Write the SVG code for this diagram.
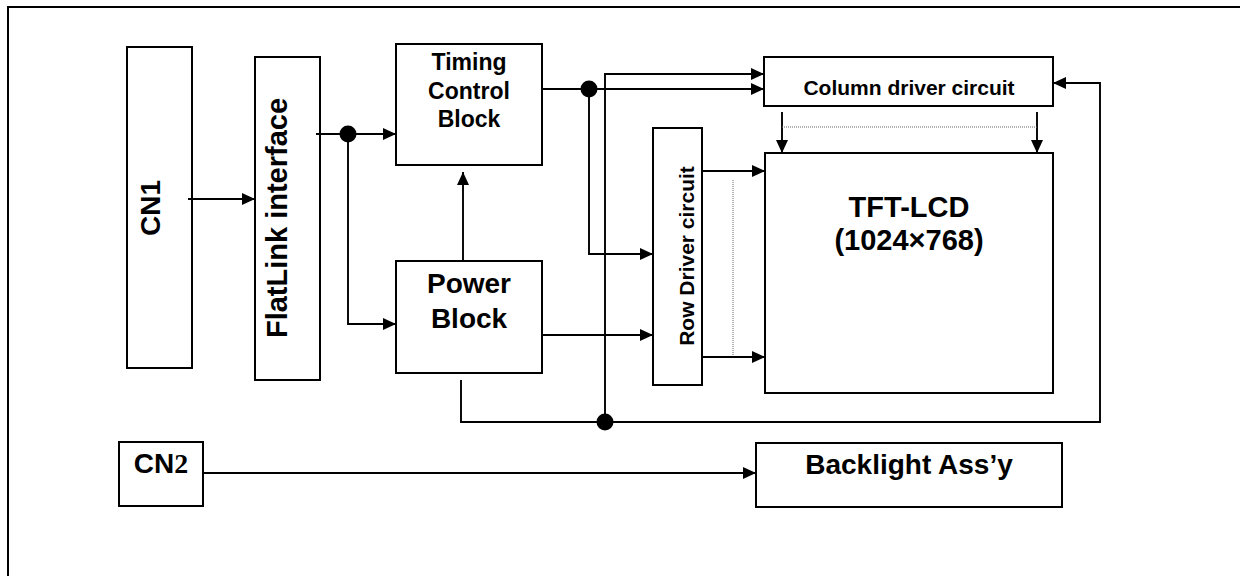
<svg xmlns="http://www.w3.org/2000/svg" width="1240" height="576" viewBox="0 0 1240 576">
<style>
.box{fill:#fff;stroke:#000;stroke-width:2}
.ln{fill:none;stroke:#000;stroke-width:1.9}
.dot{fill:#000}
.dotted{fill:none;stroke:#666;stroke-width:1;stroke-dasharray:1 1}
text{font-family:"Liberation Sans",Arial,sans-serif;font-weight:bold;fill:#000}
</style>
<defs>
<marker id="ah" markerUnits="userSpaceOnUse" markerWidth="13" markerHeight="12" refX="13" refY="6" orient="auto">
<path d="M0,0 L13,6 L0,12 z" fill="#000"/>
</marker>
</defs>
<rect x="0" y="0" width="1240" height="576" fill="#fff"/>
<path d="M8,600 V7 H1260" fill="none" stroke="#000" stroke-width="2"/>

<g id="cn1">
<rect class="box" x="127" y="47" width="65" height="321"/>
<text transform="translate(160,208) rotate(-90)" text-anchor="middle" font-size="28">CN1</text>
</g>
<g id="flatlink">
<rect class="box" x="255" y="57" width="65" height="323"/>
<text transform="translate(287,218) rotate(-90)" text-anchor="middle" font-size="29">FlatLink interface</text>
</g>
<g id="timing">
<rect class="box" x="396" y="44" width="146" height="121"/>
<text x="469" y="70" text-anchor="middle" font-size="23">Timing</text>
<text x="469" y="99" text-anchor="middle" font-size="23">Control</text>
<text x="469" y="127" text-anchor="middle" font-size="23">Block</text>
</g>
<g id="power">
<rect class="box" x="396" y="261" width="146" height="112"/>
<text x="469" y="293" text-anchor="middle" font-size="28">Power</text>
<text x="469" y="328" text-anchor="middle" font-size="28">Block</text>
</g>
<g id="column">
<rect class="box" x="764" y="57" width="289" height="49"/>
<text x="909" y="95" text-anchor="middle" font-size="21">Column driver circuit</text>
</g>
<g id="row">
<rect class="box" x="653" y="128" width="49" height="257"/>
<text transform="translate(694,256) rotate(-90)" text-anchor="middle" font-size="21">Row Driver circuit</text>
</g>
<g id="tft">
<rect class="box" x="765" y="153" width="288" height="240"/>
<text x="909" y="217" text-anchor="middle" font-size="29">TFT-LCD</text>
<text x="909" y="250" text-anchor="middle" font-size="29">(1024×768)</text>
</g>
<g id="cn2">
<rect class="box" x="119" y="442" width="84" height="64"/>
<text x="161" y="473" text-anchor="middle" font-size="28">CN<tspan font-family="'Liberation Serif','Times New Roman',serif">2</tspan></text>
</g>
<g id="backlight">
<rect class="box" x="756" y="443" width="306" height="64"/>
<text x="909" y="474" text-anchor="middle" font-size="28">Backlight Ass’y</text>
</g>

<g id="connectors">
<path class="ln" d="M188,199 H255" marker-end="url(#ah)"/>
<path class="ln" d="M316,134 H396" marker-end="url(#ah)"/>
<path class="ln" d="M348,134 V324 H396" marker-end="url(#ah)"/>
<path class="ln" d="M463,261 V172" marker-end="url(#ah)"/>
<path class="ln" d="M542,89 H764" marker-end="url(#ah)"/>
<path class="ln" d="M589,89 V254 H653" marker-end="url(#ah)"/>
<path class="ln" d="M605,422 V74 H764" marker-end="url(#ah)"/>
<path class="ln" d="M542,335 H653" marker-end="url(#ah)"/>
<path class="ln" d="M702,171 H765" marker-end="url(#ah)"/>
<path class="ln" d="M702,357 H765" marker-end="url(#ah)"/>
<path class="ln" d="M782,112 V153" marker-end="url(#ah)"/>
<path class="ln" d="M1037,112 V153" marker-end="url(#ah)"/>
<path class="ln" d="M461,380 V422 H1100 V83 H1053" marker-end="url(#ah)"/>
<path class="ln" d="M203,473 H756" marker-end="url(#ah)"/>
<path class="dotted" d="M782,127 H1037"/>
<path class="dotted" d="M733,180 V355"/>
<circle class="dot" cx="348" cy="134" r="8.5"/>
<circle class="dot" cx="589" cy="89" r="8.5"/>
<circle class="dot" cx="605" cy="422" r="8.5"/>
</g>
</svg>
